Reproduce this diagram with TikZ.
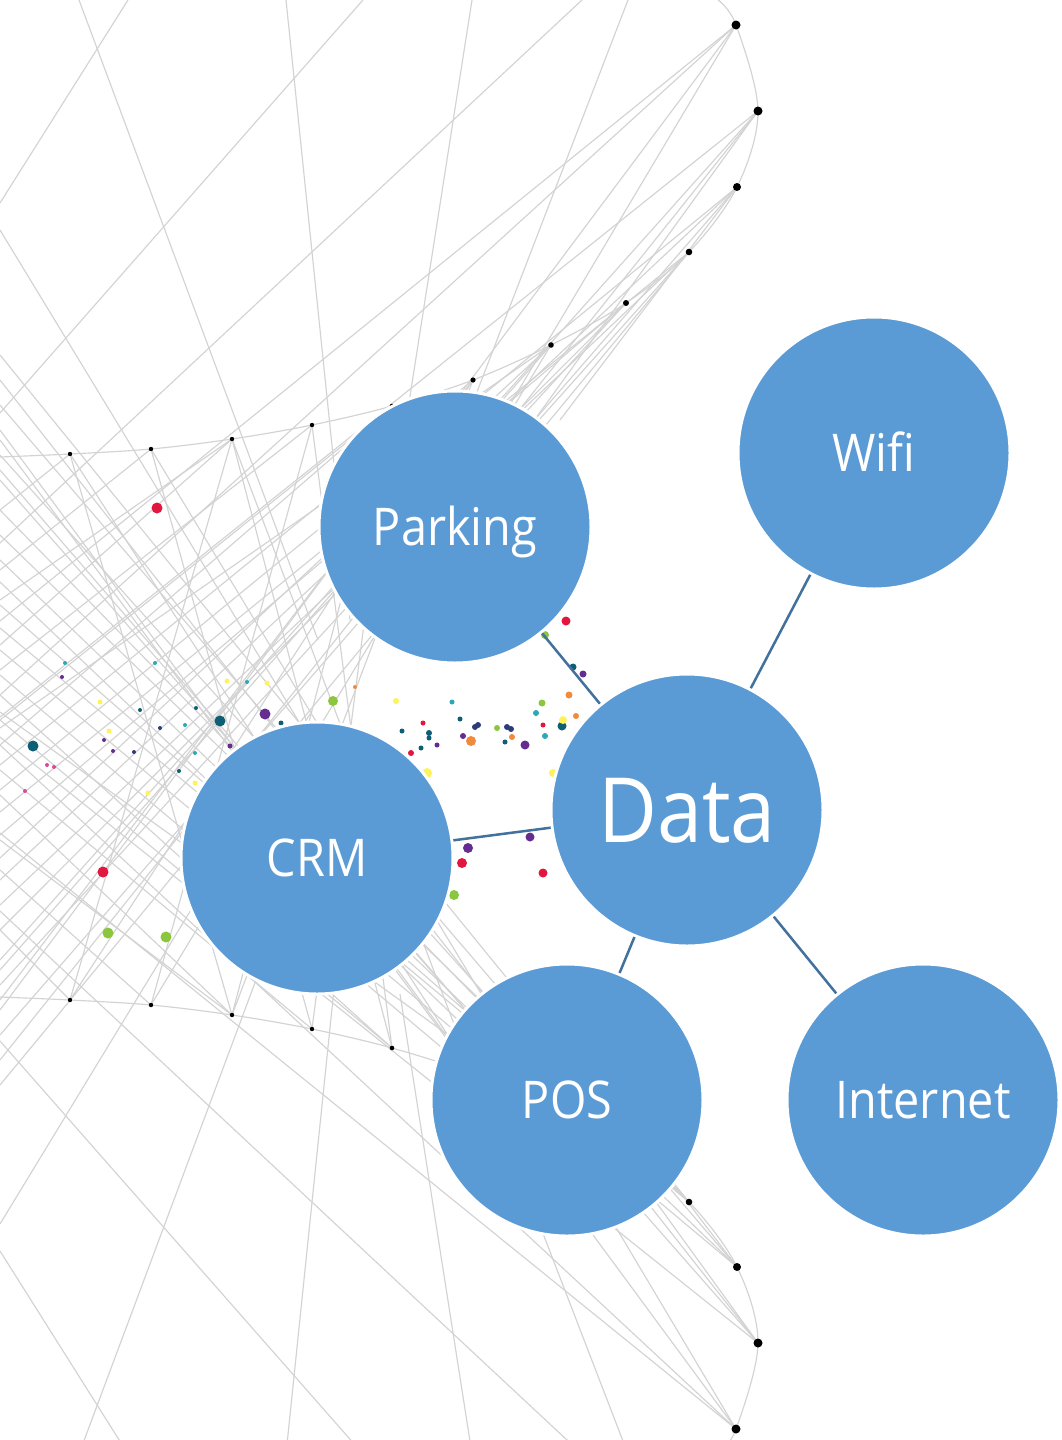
\documentclass[tikz,border=0pt]{standalone}
\usepackage{fontspec}
\setmainfont{Open Sans}[FakeStretch=0.9]
\definecolor{bubblue}{HTML}{5B9BD5}
\definecolor{linkblue}{HTML}{41719C}
\definecolor{gridgray}{HTML}{D3D3D3}
\definecolor{dred}{HTML}{E2173F}
\definecolor{dgreen}{HTML}{8CC63F}
\definecolor{dpurple}{HTML}{642D8F}
\definecolor{dteal}{HTML}{0C5F75}
\definecolor{lteal}{HTML}{2AA8B8}
\definecolor{dorange}{HTML}{F28A3E}
\definecolor{dyellow}{HTML}{FFF25A}
\definecolor{dnavy}{HTML}{2D3C78}
\definecolor{dpink}{HTML}{E0479C}
\tikzset{
  bgline/.style={draw=gridgray, line width=1.15pt},
  bub/.style={circle, fill=bubblue, draw=white, line width=3pt, minimum size=272pt,
    inner sep=0pt, text=white, font=\fontsize{52}{52}\selectfont, text height=37.5pt, text depth=0pt},
  bigbub/.style={bub, font=\fontsize{90}{90}\selectfont, text height=64pt},
  link/.style={draw=linkblue, line width=2.5pt}
}
% parts drawn identically in both halves
\newcommand{\bgsym}{%
  \foreach \xa/\ya/\xb/\yb in {
    79/0/318/640, 128/0/0/203, 286/0/350/620, 363/0/0/413, 582/0/0/543,
    0/230/310/740, 472/0/400/460, 628/0/470/410, 736/25/0/621, 736/25/480/455,
    758/111/0/717, 758/111/520/440, 737/187/560/420, 689/252/530/430,
    312/425/392/1048, 232/439/392/1048, 151/449/312/1029, 70/454/232/1015,
    70/454/473/1074, 151/449/551/1109, 232/439/473/1074}
    {\draw[bgline] (\xa,\ya) -- (\xb,\yb);}
  \draw[bgline] plot[smooth, tension=0.55] coordinates {(0,457) (70,454) (151,449) (232,439)
    (312,425) (392,406) (473,380) (551,345) (626,303) (689,252) (737,187) (758,111) (736,25) (718,0)};
}
\newcommand{\bgdots}{%
  \foreach \x/\y/\r in {736/25/4.5, 758/111/4.5, 737/187/4, 689/252/3.3, 626/303/3,
    551/345/2.8, 473/380/2.6, 392/406/2.3, 312/425/2.2, 232/439/2.2, 151/449/2.2, 70/454/2.2}
    {\fill[black] (\x,\y) circle[radius=\r pt];}
}
% lattice lines: from the arc dots down-left to the left edge (exit height given)
\newcommand{\bggrid}[1]{%
  \foreach \xa/\ya/\yb in {
    70/454/510, 151/449/570, 232/439/600, 232/439/645, 312/425/670, 736/25/695,
    392/406/720, 551/345/728,
    392/406/745, 473/380/765, 737/187/790, 689/252/812, 626/303/835, 551/345/858,
    737/187/880, 689/252/905, 626/303/930, 758/111/960, 551/345/970, 473/380/1000,
    626/303/985, 736/25/1010, 737/187/1035, 758/111/1060, 689/252/1085}
    {\draw[bgline] (\xa,\ya) -- (0,\yb+#1);}
}
\begin{document}
\begin{tikzpicture}[x=1pt,y=-1pt]
\useasboundingbox (0,0) rectangle (1062,1440);
\fill[white] (0,0) rectangle (1062,1440);
\begin{scope}
\clip (0,0) rectangle (1062,1440);
\bgsym
\bggrid{0}
\begin{scope}[cm={1,0,0,-1,(0pt,-1454pt)}]
\bgsym
\bggrid{14}
\end{scope}
\bgdots
\begin{scope}[cm={1,0,0,-1,(0pt,-1454pt)}]
\bgdots
\end{scope}
\foreach \x/\y/\r/\c in {
  157/508/5.5/dred, 103/872/5.5/dred, 566/621/4.5/dred, 543/873/4.5/dred, 462/863/5/dred,
  423/723/2.5/dred, 411/753/3/dred, 543/725/2.5/dred,
  108/933/5.5/dgreen, 166/937/5.5/dgreen, 545/635/4/dgreen, 333/701/5/dgreen, 454/895/5/dgreen,
  542/703/3.5/dgreen, 497/728/3/dgreen,
  265/714/5.5/dpurple, 468/848/5/dpurple, 530/837/4.5/dpurple, 583/674/3.5/dpurple,
  525/745/4.5/dpurple, 463/736/3/dpurple, 437/745/2.5/dpurple, 62/677/2/dpurple,
  230/746/2.5/dpurple, 104/740/2/dpurple, 113/751/2/dpurple,
  220/721/5.5/dteal, 33/746/5.5/dteal, 562/726/4.5/dteal, 573/667/3.5/dteal, 429/733/3/dteal,
  429/738/2.5/dteal, 421/748/2.5/dteal, 460/719/2.5/dteal, 505/742/2.5/dteal, 402/731/2.5/dteal,
  281/723/2.5/dteal, 140/710/2/dteal, 196/708/2/dteal, 179/771/2/dteal,
  536/713/3/lteal, 545/736/3/lteal, 452/702/2.5/lteal, 65/663/2/lteal, 155/663/2/lteal,
  247/682/2/lteal, 195/753/2/lteal, 185/725/2/lteal,
  471/741/5/dorange, 569/695/3.5/dorange, 576/716/3/dorange, 512/737/3/dorange, 355/687/2/dorange,
  563/720/4/dyellow, 427/773/5/dyellow, 396/701/3/dyellow, 100/702/2.5/dyellow, 227/681/2.5/dyellow,
  267/683/2.5/dyellow, 109/731/2.5/dyellow, 148/793/2.5/dyellow, 195/783/2.5/dyellow, 553/773/4/dyellow,
  475/727/3/dnavy, 478/725/3/dnavy, 507/727/3/dnavy, 511/729/3/dnavy, 160/728/2/dnavy, 134/752/2/dnavy,
  47/765/2/dpink, 25/791/2/dpink, 54/767/2/dpink}
  {\fill[\c] (\x,\y) circle[radius=\r pt];}
\end{scope}
\node[bub] (wifi) at (874,453) {Wifi};
\node[bub] (parking) at (455,527) {Parking};
\node[bigbub] (data) at (687,810) {Data};
\node[bub] (crm) at (317,858) {CRM};
\node[bub] (pos) at (567,1100) {POS};
\node[bub] (internet) at (923,1100) {Internet};
\draw[link] (data) -- (wifi);
\draw[link] (data) -- (parking);
\draw[link] (data) -- (crm);
\draw[link] (data) -- (pos);
\draw[link] (data) -- (internet);
\end{tikzpicture}
\end{document}
